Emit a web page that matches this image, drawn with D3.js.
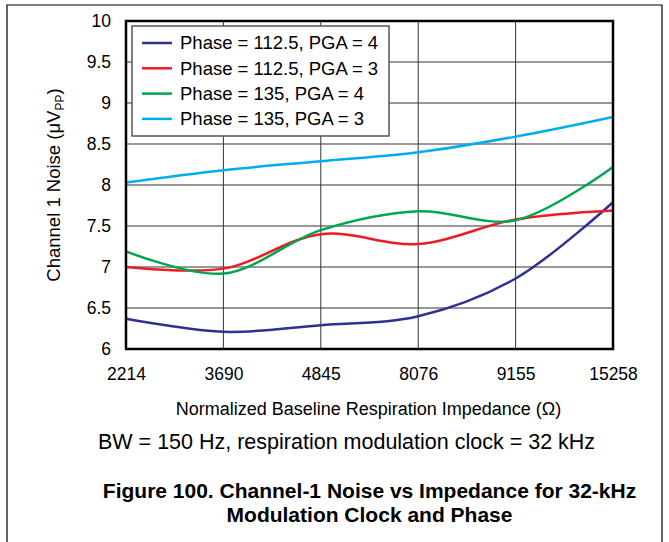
<!DOCTYPE html>
<html><head><meta charset="utf-8">
<script src="https://cdn.jsdelivr.net/npm/d3@7"></script>
<style>body{margin:0;background:#fff;} svg{display:block;font-family:"Liberation Sans",Arial,sans-serif;}</style>
</head><body><svg id="c" width="669" height="542"></svg>
<script>
const categories = ["2214","3690","4845","8076","9155","15258"];
const seriesNames = ["Phase = 112.5, PGA = 4","Phase = 112.5, PGA = 3","Phase = 135, PGA = 4","Phase = 135, PGA = 3"];
const seriesColors = ["#2e3192","#ed1c24","#00a651","#00aeef"];
const blue = [6.37, 6.21, 6.29, 6.40, 6.86, 7.79];
const red = [7.00, 6.98, 7.40, 7.28, 7.58, 7.69];
const green = [7.19, 6.92, 7.45, 7.68, 7.57, 8.22];
const cyan = [8.03, 8.18, 8.29, 8.40, 8.59, 8.83];
const yTicks = [6, 6.5, 7, 7.5, 8, 8.5, 9, 9.5, 10];
const series = [blue, red, green, cyan];

const FONT = "Liberation Sans, Arial, sans-serif";
const svg = d3.select("#c");
const L = 126, R = 613, T = 21, B = 349;

// outer frame
svg.append("path").attr("d","M7,542 V5 H662 V542").attr("fill","none").attr("stroke","#000").attr("stroke-width",1.2);

const x = d3.scalePoint().domain(categories).range([L, R]);
const y = d3.scaleLinear().domain([6, 10]).range([B, T]);

// grid
const g = svg.append("g");
g.selectAll("line.h").data(yTicks).join("line")
  .attr("x1", L).attr("x2", R).attr("y1", d => y(d)).attr("y2", d => y(d))
  .attr("stroke", "#333").attr("stroke-width", 1);
g.selectAll("line.v").data(categories).join("line")
  .attr("y1", T).attr("y2", B).attr("x1", d => x(d)).attr("x2", d => x(d))
  .attr("stroke", "#333").attr("stroke-width", 1);

// axes
const yAxis = d3.axisLeft(y).tickValues(yTicks).tickSize(0).tickPadding(15).tickFormat(d => d3.format("")(d));
const ya = svg.append("g").attr("transform", `translate(${L},0)`).call(yAxis);
ya.select(".domain").remove();
ya.selectAll("text").attr("font-size", 17.5).attr("fill","#000").attr("font-family",FONT);

const xAxis = d3.axisBottom(x).tickSize(0).tickPadding(0);
const xa = svg.append("g").attr("transform", `translate(0,${B})`).call(xAxis);
xa.select(".domain").remove();
xa.selectAll("text").attr("font-size", 17.5).attr("fill","#000").attr("font-family",FONT)
  .attr("dy", null).attr("y", 31);

// lines
const line = d3.line().x((d,i) => x(categories[i])).y(d => y(d)).curve(d3.curveCatmullRom.alpha(0.5));
svg.append("g").selectAll("path").data(series).join("path")
  .attr("d", d => line(d)).attr("fill","none")
  .attr("stroke", (d,i) => seriesColors[i]).attr("stroke-width", 2.5);

// plot border
svg.append("rect").attr("x", L).attr("y", T).attr("width", R-L).attr("height", B-T)
  .attr("fill","none").attr("stroke","#000").attr("stroke-width",2.5);

// legend
const lg = svg.append("g");
lg.append("rect").attr("x",132).attr("y",26).attr("width",257).attr("height",110)
  .attr("fill","#fff").attr("stroke","#555").attr("stroke-width",1.5);
seriesNames.forEach((n,i) => {
  const yy = 43 + i*25.3;
  lg.append("line").attr("x1",142).attr("x2",172).attr("y1",yy).attr("y2",yy)
    .attr("stroke",seriesColors[i]).attr("stroke-width",2.5);
  lg.append("text").attr("x",180).attr("y",yy).attr("dy","0.35em").attr("font-size",18.5).text(n);
});

// y title
const yt = svg.append("text").attr("transform","translate(60,185) rotate(-90)")
  .attr("text-anchor","middle").attr("font-size",18.5);
yt.append("tspan").text("Channel 1 Noise (μV");
yt.append("tspan").attr("font-size",12).attr("dy",4).text("PP");
yt.append("tspan").attr("dy",-4).text(")");

svg.append("text").attr("x",368.5).attr("y",415).attr("text-anchor","middle").attr("font-size",18)
  .text("Normalized Baseline Respiration Impedance (Ω)");
svg.append("text").attr("x",98).attr("y",449).attr("font-size",21.5)
  .text("BW = 150 Hz, respiration modulation clock = 32 kHz");
svg.append("text").attr("x",369.5).attr("y",498).attr("text-anchor","middle").attr("font-size",21).attr("font-weight","bold")
  .text("Figure 100. Channel-1 Noise vs Impedance for 32-kHz");
svg.append("text").attr("x",369.5).attr("y",522).attr("text-anchor","middle").attr("font-size",21).attr("font-weight","bold")
  .text("Modulation Clock and Phase");
</script></body></html>
